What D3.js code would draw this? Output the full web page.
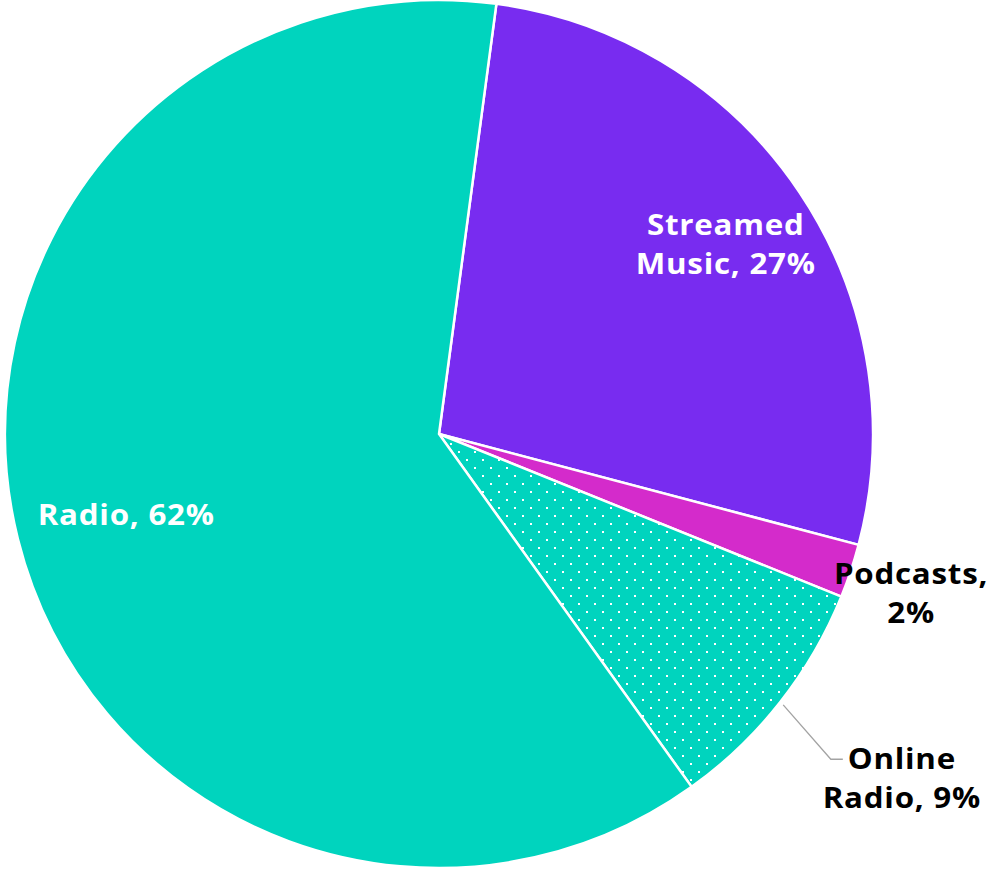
<!DOCTYPE html>
<html>
<head>
<meta charset="utf-8">
<script src="https://cdn.jsdelivr.net/npm/d3@7"></script>
<style>
  html, body { margin: 0; padding: 0; background: #fff; overflow: hidden; }
  svg { display: block; }
  .lbl { font-family: "Open Sans", sans-serif; font-weight: 700; font-size: 29px; letter-spacing: 0.7px; }
</style>
</head>
<body>
<svg id="chart" width="989" height="871"></svg>
<script>
// Listening share by audio source
const categories = ["Streamed Music", "Podcasts", "Online Radio", "Radio"];
const values = [27, 2, 9, 62];
const labelLines = [
  ["Streamed", "Music, 27%"],
  ["Podcasts,", "2%"],
  ["Online", "Radio, 9%"],
  ["Radio, 62%"]
];

const colors = ["#782cf0", "#d42bcb", "#00d4be", "#00d4be"];
const textColors = ["#ffffff", "#000000", "#000000", "#ffffff"];

const width = 989, height = 871;
const cx = 439, cy = 434, R = 434;
const startDeg = 7.6;

// label placement: distance from centre along the slice's mid angle, plus angle nudge (deg)
const labelDist = [343, 497, 576, 324];
const labelNudge = [0.2, 0.2, -1.5, -0.4];
const lineHeight = 39;
const glyphStretch = 1.08;

const svg = d3.select("#chart");
const defs = svg.append("defs");

// dotted fill for online radio
const pat = defs.append("pattern")
  .attr("id", "dots")
  .attr("patternUnits", "userSpaceOnUse")
  .attr("width", 16).attr("height", 16);
pat.append("rect").attr("width", 16).attr("height", 16).attr("fill", colors[2]);
pat.append("rect").attr("x", 3).attr("y", 1).attr("width", 2).attr("height", 2).attr("fill", "#fff");
pat.append("rect").attr("x", 11).attr("y", 9).attr("width", 2).attr("height", 2).attr("fill", "#fff");

const fills = colors.map((c, i) => categories[i] === "Online Radio" ? "url(#dots)" : c);

const toRad = d => d * Math.PI / 180;
const pie = d3.pie().sort(null).value(d => d)
  .startAngle(toRad(startDeg)).endAngle(toRad(startDeg + 360));
const arcs = pie(values);
const arc = d3.arc().innerRadius(0).outerRadius(R);

const g = svg.append("g").attr("transform", `translate(${cx},${cy})`);

g.selectAll("path.slice")
  .data(arcs)
  .join("path")
  .attr("class", "slice")
  .attr("d", arc)
  .attr("fill", (d, i) => fills[i])
  .attr("stroke", "#fff")
  .attr("stroke-width", 2.5);

const polar = (ang, r) => [r * Math.sin(ang), -r * Math.cos(ang)];

// connector for the online radio label
arcs.forEach((a, i) => {
  if (categories[i] !== "Online Radio") return;
  const mid = (a.startAngle + a.endAngle) / 2;
  const p0 = polar(mid, R + 4);
  const lp = polar(mid + toRad(labelNudge[i]), labelDist[i]);
  const yLine = lp[1] - lineHeight / 2 + 0.5;
  const xEnd = lp[0] - 58;
  const pts = [p0, [xEnd - 12, yLine], [xEnd, yLine]];
  g.append("path")
    .attr("d", d3.line()(pts))
    .attr("fill", "none")
    .attr("stroke", "#a3a3a3")
    .attr("stroke-width", 1.3);
});

// labels
arcs.forEach((a, i) => {
  const mid = (a.startAngle + a.endAngle) / 2 + toRad(labelNudge[i]);
  const [x, y] = polar(mid, labelDist[i]);
  const lines = labelLines[i];
  const t = g.append("text")
    .attr("class", "lbl")
    .attr("text-anchor", "middle")
    .attr("transform", `translate(${x + 1},${y}) scale(${glyphStretch},1)`)
    .attr("fill", textColors[i]);
  lines.forEach((ln, k) => {
    const base = 10.5 + (k - (lines.length - 1) / 2) * lineHeight;
    t.append("tspan").attr("x", 0).attr("y", base).text(ln);
  });
});
</script>
</body>
</html>
